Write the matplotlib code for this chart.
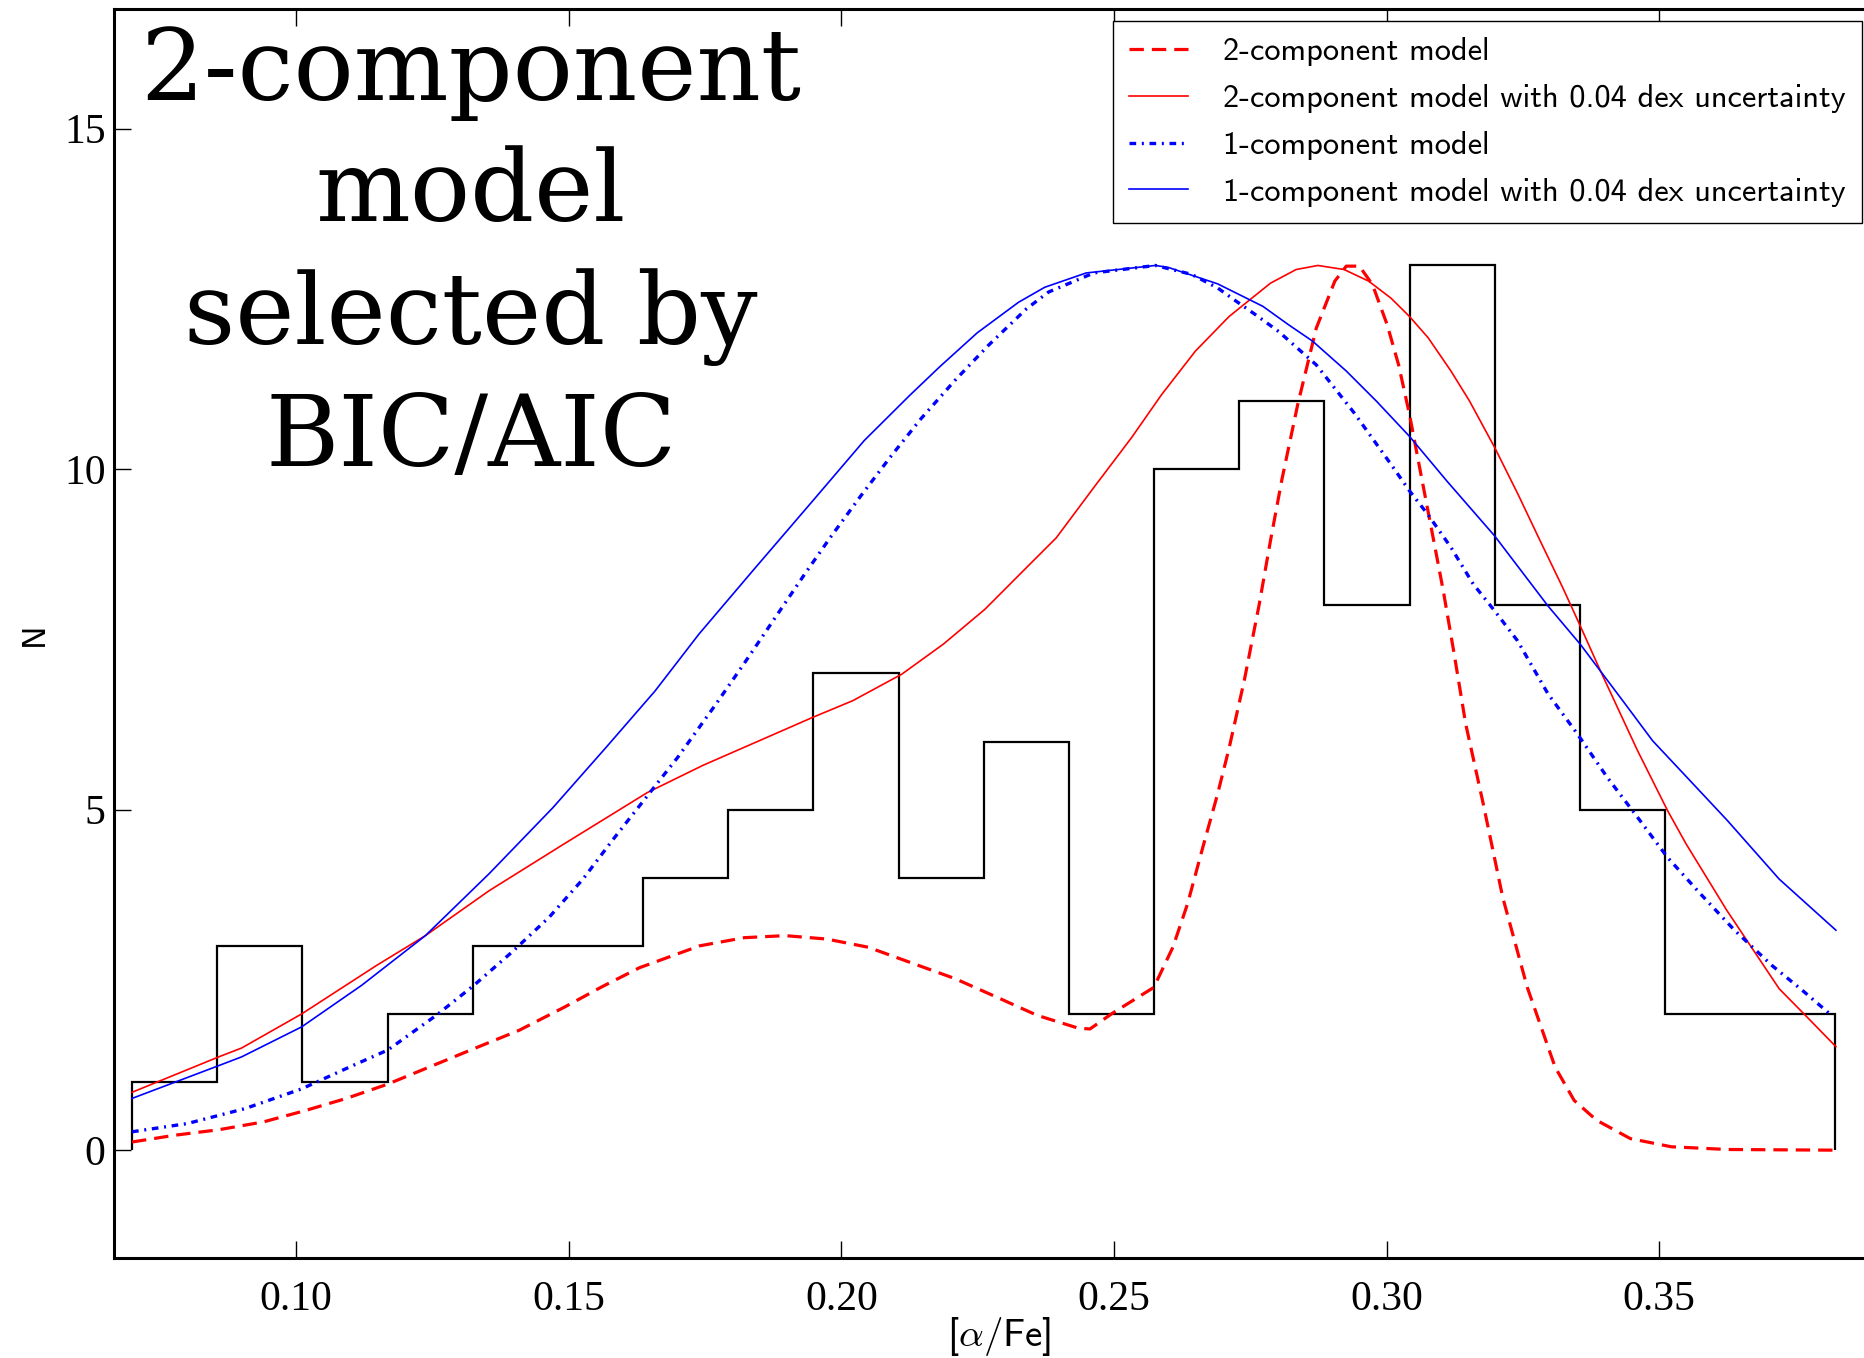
import numpy as np
import matplotlib
matplotlib.use('Agg')
import matplotlib.pyplot as plt

plt.rcParams['mathtext.fontset'] = 'cm'

# histogram of [alpha/Fe], 20 equal bins
hist_lo, hist_hi = 0.0699, 0.3823
counts = [1, 3, 1, 2, 3, 3, 4, 5, 7, 4, 6, 2, 10, 11, 8, 13, 8, 5, 2, 2]

# 2-component model (red dashed)
x_two = [0.0699, 0.0778, 0.0858, 0.094, 0.1016, 0.1092, 0.1168, 0.1244, 0.1326, 0.1409,
         0.1492, 0.1561, 0.163, 0.174, 0.1822, 0.1897, 0.1973, 0.2049, 0.2125, 0.2208,
         0.2284, 0.2359, 0.2435, 0.2456, 0.2497, 0.2573, 0.2608, 0.2635, 0.2663, 0.269,
         0.2711, 0.2739, 0.2766, 0.2787, 0.2808, 0.2837, 0.2871, 0.2905, 0.2926, 0.295,
         0.2974, 0.3001, 0.3022, 0.3042, 0.3063, 0.3083, 0.3104, 0.3124, 0.3145, 0.3176,
         0.3213, 0.3258, 0.3309, 0.3344, 0.3385, 0.3447, 0.3522, 0.3625, 0.3823]
y_two = [0.12, 0.22, 0.30, 0.415, 0.58, 0.76, 0.97, 1.22, 1.49, 1.76,
         2.1, 2.4, 2.68, 3.0, 3.12, 3.15, 3.10, 2.98, 2.76, 2.52,
         2.25, 1.98, 1.79, 1.78, 2.01, 2.39, 2.98, 3.62, 4.45, 5.23,
         5.9, 6.9, 8.0, 8.95, 9.85, 10.95, 12.07, 12.76, 12.98, 12.98,
         12.71, 12.12, 11.53, 10.8, 9.92, 9.09, 8.21, 7.28, 6.26, 5.13,
         3.71, 2.39, 1.22, 0.73, 0.44, 0.17, 0.05, 0.01, 0.0]

# 2-component model with 0.04 dex uncertainty (red solid)
x_two_unc = [0.0699, 0.0858, 0.09, 0.101, 0.1147, 0.1237, 0.1354, 0.1492, 0.1644, 0.1746,
             0.1946, 0.2021, 0.2111, 0.2187, 0.2263, 0.2339, 0.2394, 0.2463, 0.2532, 0.2587,
             0.2649, 0.2711, 0.2787, 0.2834, 0.2874, 0.2922, 0.2967, 0.3008, 0.3042, 0.3076,
             0.3118, 0.3152, 0.3198, 0.3241, 0.3282, 0.3323, 0.3355, 0.3392, 0.346, 0.3515,
             0.3549, 0.3624, 0.372, 0.3768, 0.3824]
y_two_unc = [0.85, 1.37, 1.5, 2.0, 2.71, 3.15, 3.81, 4.5, 5.25, 5.65,
             6.35, 6.6, 6.99, 7.43, 7.94, 8.55, 8.99, 9.73, 10.46, 11.09,
             11.73, 12.24, 12.73, 12.93, 12.99, 12.93, 12.76, 12.51, 12.24, 11.93,
             11.44, 11.0, 10.32, 9.63, 8.94, 8.26, 7.7, 7.04, 5.87, 4.99,
             4.5, 3.52, 2.37, 1.98, 1.52]

# 1-component model (blue dash-dot)
x_one = [0.0699, 0.08, 0.0906, 0.101, 0.1106, 0.1168, 0.1257, 0.1326, 0.1396, 0.1464,
         0.1526, 0.1582, 0.1637, 0.17, 0.177, 0.1822, 0.1877, 0.1932, 0.198, 0.2035,
         0.209, 0.2146, 0.2208, 0.227, 0.2339, 0.238, 0.2463, 0.2576, 0.2642, 0.269,
         0.2725, 0.2759, 0.2802, 0.2871, 0.294, 0.3008, 0.3042, 0.3076, 0.3118, 0.3159,
         0.3198, 0.324, 0.3296, 0.335, 0.3405, 0.346, 0.3515, 0.3576, 0.3638, 0.3707,
         0.3762, 0.3813]
y_one = [0.27, 0.39, 0.61, 0.90, 1.25, 1.47, 1.98, 2.42, 2.91, 3.42,
         3.98, 4.57, 5.13, 5.77, 6.55, 7.15, 7.8, 8.45, 9.0, 9.6,
         10.18, 10.74, 11.3, 11.82, 12.35, 12.6, 12.88, 12.99, 12.86, 12.66,
         12.46, 12.27, 12.02, 11.53, 10.83, 10.07, 9.68, 9.33, 8.85, 8.31,
         7.92, 7.48, 6.7, 6.11, 5.47, 4.89, 4.3, 3.76, 3.23, 2.71,
         2.35, 2.0]

# 1-component model with 0.04 dex uncertainty (blue solid)
x_one_unc = [0.0699, 0.0851, 0.09, 0.101, 0.112, 0.1237, 0.1354, 0.1471, 0.1568, 0.1658,
             0.1739, 0.1842, 0.1946, 0.2042, 0.2125, 0.218, 0.2249, 0.2325, 0.2373, 0.2449,
             0.2576, 0.26, 0.269, 0.2773, 0.282, 0.2864, 0.2926, 0.2981, 0.3042, 0.3111,
             0.3198, 0.3296, 0.3355, 0.3433, 0.3488, 0.3556, 0.3625, 0.372, 0.3824]
y_one_unc = [0.76, 1.22, 1.37, 1.81, 2.42, 3.15, 4.06, 5.03, 5.91, 6.74,
             7.58, 8.55, 9.52, 10.42, 11.08, 11.5, 12.0, 12.45, 12.67, 12.88,
             12.99, 12.96, 12.72, 12.39, 12.12, 11.88, 11.44, 11.0, 10.48, 9.82,
             9.02, 7.99, 7.43, 6.6, 6.01, 5.43, 4.84, 3.98, 3.23]

x_ticks = [0.10, 0.15, 0.20, 0.25, 0.30, 0.35]
y_ticks = [0, 5, 10, 15]

fig = plt.figure(figsize=(18.65, 13.58), dpi=100)
ax = fig.add_axes([0.0611, 0.0733, 0.9489, 0.9198])

edges = np.linspace(hist_lo, hist_hi, len(counts) + 1)
ax.hist(edges[:-1], bins=edges, weights=counts, histtype='step', color='k', lw=1.6)

ax.plot(x_two, y_two, color='#ff0000', lw=2.3, dashes=(4.5, 2.5), label='2-component model')
ax.plot(x_two_unc, y_two_unc, color='#ff0000', lw=1.2,
        label='2-component model with 0.04 dex uncertainty')
ax.plot(x_one, y_one, color='#0000ff', lw=2.4, dashes=(2.0, 1.7, 0.6, 1.7),
        label='1-component model')
ax.plot(x_one_unc, y_one_unc, color='#0000ff', lw=1.2,
        label='1-component model with 0.04 dex uncertainty')

ax.set_xlim(0.06658, 0.39116)
ax.set_ylim(-1.59, 16.75)
ax.set_xticks(x_ticks)
ax.set_xticklabels(['%.2f' % t for t in x_ticks])
ax.set_yticks(y_ticks)
ax.tick_params(direction='in', length=12, width=1, top=True, right=True)
ax.tick_params(axis='x', pad=16)
ax.tick_params(axis='y', pad=6)
for lab in ax.get_xticklabels() + ax.get_yticklabels():
    lab.set_fontfamily('Liberation Serif')
    lab.set_fontsize(30)
for sp in ax.spines.values():
    sp.set_linewidth(2.2)

ax.set_xlabel(r'[$\alpha$/Fe]', fontfamily='cmss10', fontsize=28, labelpad=-3)
ax.set_ylabel('N', fontfamily='cmss10', fontsize=24, labelpad=11)

leg = ax.legend(loc='upper right', bbox_to_anchor=(0.9984, 0.9845),
                bbox_transform=fig.transFigure, borderaxespad=0,
                prop={'family': 'cmss10', 'size': 23.3}, fancybox=False,
                edgecolor='k', framealpha=1, handlelength=1.8,
                handletextpad=1.1, labelspacing=0.55, borderpad=0.5)
leg.get_frame().set_linewidth(1.0)

fig.text(471 / 1865, 1 - 25 / 1358,
         '2-component\nmodel\nselected by\nBIC/AIC',
         ha='center', va='top', fontfamily='DejaVu Serif',
         fontsize=72, linespacing=1.34)

fig.savefig('out.png', dpi=100)
